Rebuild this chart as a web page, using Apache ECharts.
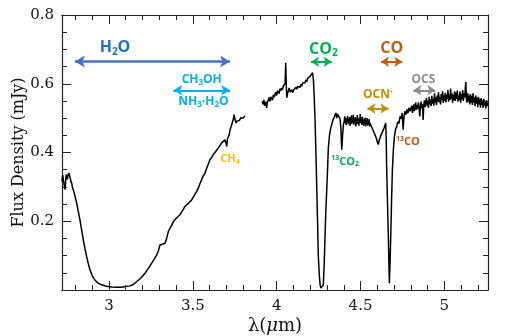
<!DOCTYPE html>
<html>
<head>
  <meta charset="UTF-8">
  <title>spectrum</title>
  <style>
  html, body { margin: 0; padding: 0; background: #fff; }
  #chart { width: 510px; height: 336px; }
  </style>
  <script src="https://cdn.jsdelivr.net/npm/echarts@6/dist/echarts.min.js"></script>
</head>
<body>
  <div id="chart"></div>
  <script type="text/javascript">
  // short-wavelength part of the spectrum (um, mJy)
  var lam1 = [2.720, 2.724, 2.727, 2.731, 2.735, 2.738, 2.742, 2.745, 2.748, 2.752, 2.756, 2.761, 2.765, 2.769, 2.773, 2.778, 2.782, 2.787, 2.795, 2.807,
    2.817, 2.827, 2.837, 2.847, 2.857, 2.867, 2.877, 2.887, 2.900, 2.916, 2.935, 2.956, 2.985, 3.016, 3.045, 3.076, 3.100, 3.125, 3.145, 3.165,
    3.190, 3.215, 3.235, 3.255, 3.270, 3.285, 3.295, 3.304, 3.312, 3.320, 3.334, 3.344, 3.354, 3.364, 3.374, 3.384, 3.394, 3.404, 3.414, 3.424,
    3.434, 3.444, 3.453, 3.463, 3.473, 3.483, 3.493, 3.503, 3.513, 3.523, 3.533, 3.543, 3.553, 3.563, 3.573, 3.583, 3.592, 3.602, 3.612, 3.622,
    3.632, 3.642, 3.652, 3.662, 3.672, 3.682, 3.692, 3.697, 3.702, 3.707, 3.712, 3.717, 3.722, 3.730, 3.738, 3.742, 3.746, 3.752, 3.758, 3.764,
    3.771, 3.778, 3.785, 3.792, 3.800, 3.811];
  var flux1 = [0.316, 0.335, 0.340, 0.312, 0.300, 0.292, 0.318, 0.336, 0.332, 0.322, 0.334, 0.340, 0.336, 0.326, 0.316, 0.310, 0.300, 0.292, 0.278, 0.254,
    0.229, 0.204, 0.175, 0.146, 0.120, 0.097, 0.076, 0.058, 0.042, 0.029, 0.020, 0.015, 0.011, 0.009, 0.008, 0.008, 0.010, 0.012, 0.016, 0.024,
    0.035, 0.049, 0.063, 0.078, 0.090, 0.102, 0.114, 0.131, 0.130, 0.133, 0.136, 0.150, 0.170, 0.180, 0.188, 0.199, 0.203, 0.210, 0.212, 0.219,
    0.224, 0.235, 0.243, 0.246, 0.252, 0.257, 0.262, 0.270, 0.278, 0.287, 0.297, 0.310, 0.321, 0.333, 0.340, 0.355, 0.366, 0.379, 0.386, 0.394,
    0.400, 0.404, 0.413, 0.418, 0.428, 0.425, 0.437, 0.430, 0.418, 0.440, 0.446, 0.452, 0.466, 0.478, 0.491, 0.498, 0.510, 0.495, 0.486, 0.492,
    0.496, 0.493, 0.501, 0.505, 0.500, 0.507];

  // 3.9 - 4.4 um: continuum, CO2 band and 13CO2 dip
  var lamCO2 = [3.914, 3.919, 3.924, 3.928, 3.931, 3.936, 3.940, 3.945, 3.950, 3.955, 3.960, 3.965, 3.970, 3.975, 3.980, 3.985, 3.990, 3.995, 4.000, 4.005,
    4.010, 4.015, 4.020, 4.025, 4.030, 4.035, 4.040, 4.046, 4.050, 4.054, 4.057, 4.060, 4.064, 4.069, 4.074, 4.080, 4.085, 4.090, 4.095, 4.100,
    4.105, 4.109, 4.115, 4.120, 4.125, 4.129, 4.135, 4.140, 4.145, 4.149, 4.155, 4.160, 4.165, 4.169, 4.175, 4.180, 4.185, 4.189, 4.195, 4.200,
    4.205, 4.209, 4.214, 4.219, 4.224, 4.229, 4.234, 4.239, 4.244, 4.248, 4.254, 4.259, 4.264, 4.269, 4.274, 4.278, 4.283, 4.288, 4.293, 4.299,
    4.304, 4.308, 4.315, 4.322, 4.328, 4.335, 4.341, 4.348, 4.353, 4.358, 4.363, 4.368, 4.373, 4.378, 4.383, 4.388, 4.393, 4.398];
  var fluxCO2 = [0.549, 0.540, 0.553, 0.536, 0.534, 0.548, 0.530, 0.546, 0.544, 0.560, 0.549, 0.562, 0.559, 0.552, 0.568, 0.561, 0.569, 0.575, 0.566, 0.580,
    0.578, 0.571, 0.586, 0.580, 0.588, 0.582, 0.594, 0.598, 0.600, 0.661, 0.600, 0.559, 0.570, 0.573, 0.588, 0.576, 0.580, 0.583, 0.574, 0.582,
    0.586, 0.578, 0.590, 0.584, 0.592, 0.588, 0.596, 0.590, 0.599, 0.593, 0.602, 0.597, 0.606, 0.603, 0.612, 0.606, 0.616, 0.617, 0.614, 0.622,
    0.618, 0.627, 0.632, 0.612, 0.560, 0.491, 0.400, 0.297, 0.195, 0.102, 0.045, 0.015, 0.006, 0.005, 0.006, 0.015, 0.070, 0.152, 0.230, 0.297,
    0.360, 0.414, 0.450, 0.470, 0.481, 0.494, 0.500, 0.505, 0.515, 0.500, 0.512, 0.510, 0.503, 0.496, 0.470, 0.408, 0.450, 0.481];

  // 4.4 - 4.56 um: noisy plateau
  var lamMid = [4.403, 4.406, 4.408, 4.411, 4.414, 4.417, 4.420, 4.423, 4.426, 4.429, 4.432, 4.435, 4.438, 4.441, 4.443, 4.446, 4.448, 4.451, 4.454, 4.457,
    4.460, 4.463, 4.466, 4.469, 4.472, 4.475, 4.478, 4.481, 4.483, 4.485, 4.487, 4.490, 4.493, 4.496, 4.498, 4.501, 4.504, 4.507, 4.510, 4.513,
    4.516, 4.519, 4.521, 4.524, 4.527, 4.530, 4.533, 4.536, 4.539, 4.542, 4.545, 4.548, 4.551, 4.554, 4.557];
  var fluxMid = [0.492, 0.505, 0.486, 0.500, 0.480, 0.498, 0.488, 0.506, 0.482, 0.497, 0.487, 0.503, 0.478, 0.496, 0.490, 0.508, 0.484, 0.499, 0.486, 0.510,
    0.481, 0.497, 0.489, 0.503, 0.476, 0.495, 0.487, 0.509, 0.483, 0.498, 0.490, 0.478, 0.500, 0.485, 0.512, 0.486, 0.496, 0.480, 0.504, 0.483,
    0.495, 0.478, 0.499, 0.486, 0.501, 0.476, 0.494, 0.485, 0.500, 0.478, 0.492, 0.482, 0.497, 0.476, 0.486];

  // 4.56 - 4.8 um: OCN-, CO band and 13CO dip
  var lamCO = [4.563, 4.570, 4.577, 4.583, 4.590, 4.597, 4.601, 4.606, 4.611, 4.616, 4.621, 4.626, 4.631, 4.636, 4.641, 4.646, 4.650, 4.653, 4.656, 4.661,
    4.666, 4.669, 4.672, 4.676, 4.680, 4.685, 4.690, 4.696, 4.702, 4.709, 4.716, 4.722, 4.729, 4.736, 4.742, 4.748, 4.754, 4.759, 4.764, 4.770,
    4.776, 4.782, 4.788, 4.795];
  var fluxCO = [0.478, 0.470, 0.462, 0.455, 0.447, 0.437, 0.430, 0.423, 0.435, 0.442, 0.450, 0.446, 0.460, 0.466, 0.472, 0.480, 0.486, 0.440, 0.350, 0.250,
    0.155, 0.080, 0.020, 0.080, 0.155, 0.260, 0.350, 0.410, 0.447, 0.468, 0.476, 0.490, 0.484, 0.505, 0.498, 0.515, 0.466, 0.505, 0.520, 0.510,
    0.525, 0.514, 0.530, 0.520];

  // 4.8 - 5.26 um: noisy red continuum
  var lamLong = [4.801, 4.805, 4.809, 4.813, 4.817, 4.821, 4.825, 4.829, 4.833, 4.837, 4.841, 4.845, 4.849, 4.853, 4.857, 4.861, 4.865, 4.869, 4.873, 4.877,
    4.881, 4.885, 4.889, 4.893, 4.897, 4.901, 4.905, 4.909, 4.913, 4.917, 4.921, 4.925, 4.929, 4.933, 4.937, 4.941, 4.945, 4.949, 4.953, 4.957,
    4.961, 4.965, 4.969, 4.973, 4.977, 4.981, 4.985, 4.989, 4.993, 4.997, 5.001, 5.005, 5.009, 5.013, 5.017, 5.021, 5.025, 5.029, 5.033, 5.037,
    5.041, 5.045, 5.049, 5.053, 5.057, 5.061, 5.065, 5.069, 5.073, 5.077, 5.081, 5.085, 5.089, 5.093, 5.097, 5.101, 5.105, 5.109, 5.113, 5.117,
    5.121, 5.125, 5.128, 5.131, 5.135, 5.139, 5.143, 5.147, 5.151, 5.155, 5.159, 5.163, 5.167, 5.171, 5.175, 5.179, 5.183, 5.187, 5.191, 5.195,
    5.199, 5.203, 5.207, 5.211, 5.215, 5.219, 5.223, 5.227, 5.231, 5.235, 5.239, 5.243, 5.247, 5.251, 5.255, 5.260];
  var fluxLong = [0.522, 0.536, 0.515, 0.530, 0.540, 0.520, 0.534, 0.545, 0.524, 0.538, 0.528, 0.546, 0.530, 0.505, 0.534, 0.548, 0.528, 0.540, 0.495, 0.538,
    0.552, 0.532, 0.546, 0.558, 0.536, 0.550, 0.530, 0.562, 0.540, 0.555, 0.535, 0.565, 0.542, 0.556, 0.536, 0.572, 0.545, 0.560, 0.538, 0.566,
    0.548, 0.575, 0.546, 0.562, 0.540, 0.570, 0.552, 0.578, 0.544, 0.566, 0.550, 0.574, 0.546, 0.568, 0.556, 0.582, 0.548, 0.570, 0.552, 0.586,
    0.556, 0.572, 0.545, 0.568, 0.552, 0.578, 0.550, 0.574, 0.556, 0.580, 0.548, 0.566, 0.552, 0.578, 0.545, 0.570, 0.555, 0.582, 0.550, 0.572,
    0.560, 0.590, 0.605, 0.556, 0.545, 0.572, 0.548, 0.566, 0.540, 0.570, 0.545, 0.565, 0.538, 0.572, 0.546, 0.560, 0.535, 0.566, 0.542, 0.560,
    0.532, 0.562, 0.540, 0.556, 0.530, 0.558, 0.538, 0.552, 0.530, 0.556, 0.536, 0.550, 0.528, 0.552, 0.535, 0.546];

  var xMajorTicks = [3, 3.5, 4, 4.5, 5];
  var xMinorTicks = [2.8, 2.9, 3.1, 3.2, 3.3, 3.4, 3.6, 3.7, 3.8, 3.9, 4.1, 4.2, 4.3, 4.4, 4.6, 4.7, 4.8, 4.9, 5.1, 5.2];

  // double arrows marking the ice bands: [from, to, flux level]
  var arrowH2O = [2.797, 3.722, 0.665];
  var arrowCH3OH = [3.384, 3.722, 0.581];
  var arrowCO2 = [4.205, 4.328, 0.664];
  var arrowCO = [4.622, 4.749, 0.664];
  var arrowOCN = [4.541, 4.666, 0.528];
  var arrowOCS = [4.815, 4.946, 0.581];

  function zip(xs, ys) {
    return xs.map(function(x, i) { return [x, ys[i]]; });
  }

  var labelFont = 'Open Sans';

  function rich(color, size) {
    var small = Math.round(size * 0.65);
    return {
      n: { color: color, fontSize: size, fontWeight: 'bold', fontFamily: labelFont },
      b: { color: color, fontSize: small, fontWeight: 'bold', fontFamily: labelFont, padding: [Math.round(size * 0.5), 0, 0, 0] },
      p: { color: color, fontSize: small, fontWeight: 'bold', fontFamily: labelFont, padding: [0, 0, Math.round(size * 0.5), 0] }
    };
  }

  function arrow(a, color, width, head) {
    return [{
      coord: [a[0], a[2]],
      symbolSize: head,
      lineStyle: { color: color, width: width, type: 'solid' }
    }, {
      coord: [a[1], a[2]],
      symbolSize: head
    }];
  }

  function tag(x, y, text, color, size) {
    return {
      coord: [x, y],
      symbol: 'circle',
      symbolSize: 0,
      label: { show: true, position: 'inside', formatter: text, rich: rich(color, size) }
    };
  }

  var chart = echarts.init(document.getElementById('chart'));

  var tickFont = { fontFamily: 'DejaVu Serif', fontSize: 15, color: '#111' };
  var boxLine = { show: true, lineStyle: { color: '#222', width: 1.2 } };

  function xAxisDef(pos, ticks, len, labels) {
    return {
      type: 'value', position: pos, min: 2.72, max: 5.26,
      axisLine: boxLine,
      splitLine: { show: false },
      axisTick: { show: true, inside: true, length: len, customValues: ticks, lineStyle: { color: '#222', width: 1 } },
      axisLabel: labels ? Object.assign({ show: true, margin: 9, customValues: ticks }, tickFont) : { show: false }
    };
  }

  function yAxisDef(pos, labels) {
    return {
      type: 'value', position: pos, min: 0, max: 0.8, interval: 0.2,
      axisLine: boxLine,
      splitLine: { show: false },
      axisTick: { show: true, inside: true, length: 9, lineStyle: { color: '#222', width: 1 } },
      minorTick: { show: true, splitNumber: 4, length: 5, lineStyle: { color: '#222', width: 1 } },
      axisLabel: labels ? Object.assign({
        show: true, margin: 8, showMinLabel: false,
        formatter: function(v) { return v.toFixed(1); }
      }, tickFont) : { show: false }
    };
  }

  var xAxes = [
    xAxisDef('bottom', xMajorTicks, 9, true),
    xAxisDef('bottom', xMinorTicks, 5, false),
    xAxisDef('top', xMajorTicks, 9, false),
    xAxisDef('top', xMinorTicks, 5, false)
  ];
  xAxes[0].name = '{a|λ(}{i|μ}{a|m)}';
  xAxes[0].nameLocation = 'middle';
  xAxes[0].nameGap = 27;
  xAxes[0].nameMoveOverlap = false;
  xAxes[0].nameTextStyle = {
    rich: {
      a: { fontFamily: 'DejaVu Serif', fontSize: 18, color: '#111' },
      i: { fontFamily: 'DejaVu Serif', fontStyle: 'italic', fontSize: 18, color: '#111' }
    }
  };

  var yAxes = [yAxisDef('left', true), yAxisDef('right', false)];
  yAxes[0].name = 'Flux Density (mJy)';
  yAxes[0].nameLocation = 'middle';
  yAxes[0].nameGap = 35;
  yAxes[0].nameMoveOverlap = false;
  yAxes[0].nameTextStyle = { fontFamily: 'DejaVu Serif', fontSize: 16, color: '#111' };

  var lineStyle = { color: '#000', width: 1.5 };
  var longData = zip(lamCO2, fluxCO2).concat(zip(lamMid, fluxMid), zip(lamCO, fluxCO), zip(lamLong, fluxLong));

  var option = {
    animation: false,
    grid: { left: 62, right: 22, top: 15, bottom: 46, containLabel: false, outerBoundsMode: 'none' },
    xAxis: xAxes,
    yAxis: yAxes,
    series: [{
      type: 'line',
      data: zip(lam1, flux1),
      showSymbol: false,
      lineStyle: lineStyle,
      itemStyle: { color: '#000' }
    }, {
      type: 'line',
      data: longData,
      showSymbol: false,
      lineStyle: lineStyle,
      itemStyle: { color: '#000' },
      markLine: {
        silent: true,
        symbol: ['arrow', 'arrow'],
        label: { show: false },
        data: [
          arrow(arrowH2O, '#4472c4', 2.5, [9, 10]),
          arrow(arrowCH3OH, '#00b0f0', 2.2, [8, 9]),
          arrow(arrowCO2, '#00b050', 2.2, [8, 8]),
          arrow(arrowCO, '#c55a11', 2.2, [8, 8]),
          arrow(arrowOCN, '#bf9000', 2.2, [8, 8]),
          arrow(arrowOCS, '#8c8c8c', 2.2, [8, 8])
        ]
      },
      markPoint: {
        silent: true,
        data: [
          tag(3.036, 0.705, '{n|H}{b|2}{n|O}', '#1f6fc5', 16),
          tag(3.553, 0.612, '{n|CH}{b|3}{n|OH}', '#00b0f0', 12),
          tag(3.563, 0.547, '{n|NH}{b|3}{n|·H}{b|2}{n|O}', '#00b0f0', 12),
          tag(3.722, 0.381, '{n|CH}{b|4}', '#ffc000', 11),
          tag(4.278, 0.700, '{n|CO}{b|2}', '#00b050', 16),
          tag(4.686, 0.702, '{n|CO}', '#c55a11', 16),
          tag(4.603, 0.569, '{n|OCN}{p|-}', '#bf9000', 12),
          tag(4.875, 0.612, '{n|OCS}', '#8c8c8c', 12),
          tag(4.408, 0.374, '{p|13}{n|CO}{b|2}', '#00b050', 11),
          tag(4.782, 0.432, '{p|13}{n|CO}', '#c55a11', 11)
        ]
      }
    }]
  };

  chart.setOption(option);
  </script>
</body>
</html>
